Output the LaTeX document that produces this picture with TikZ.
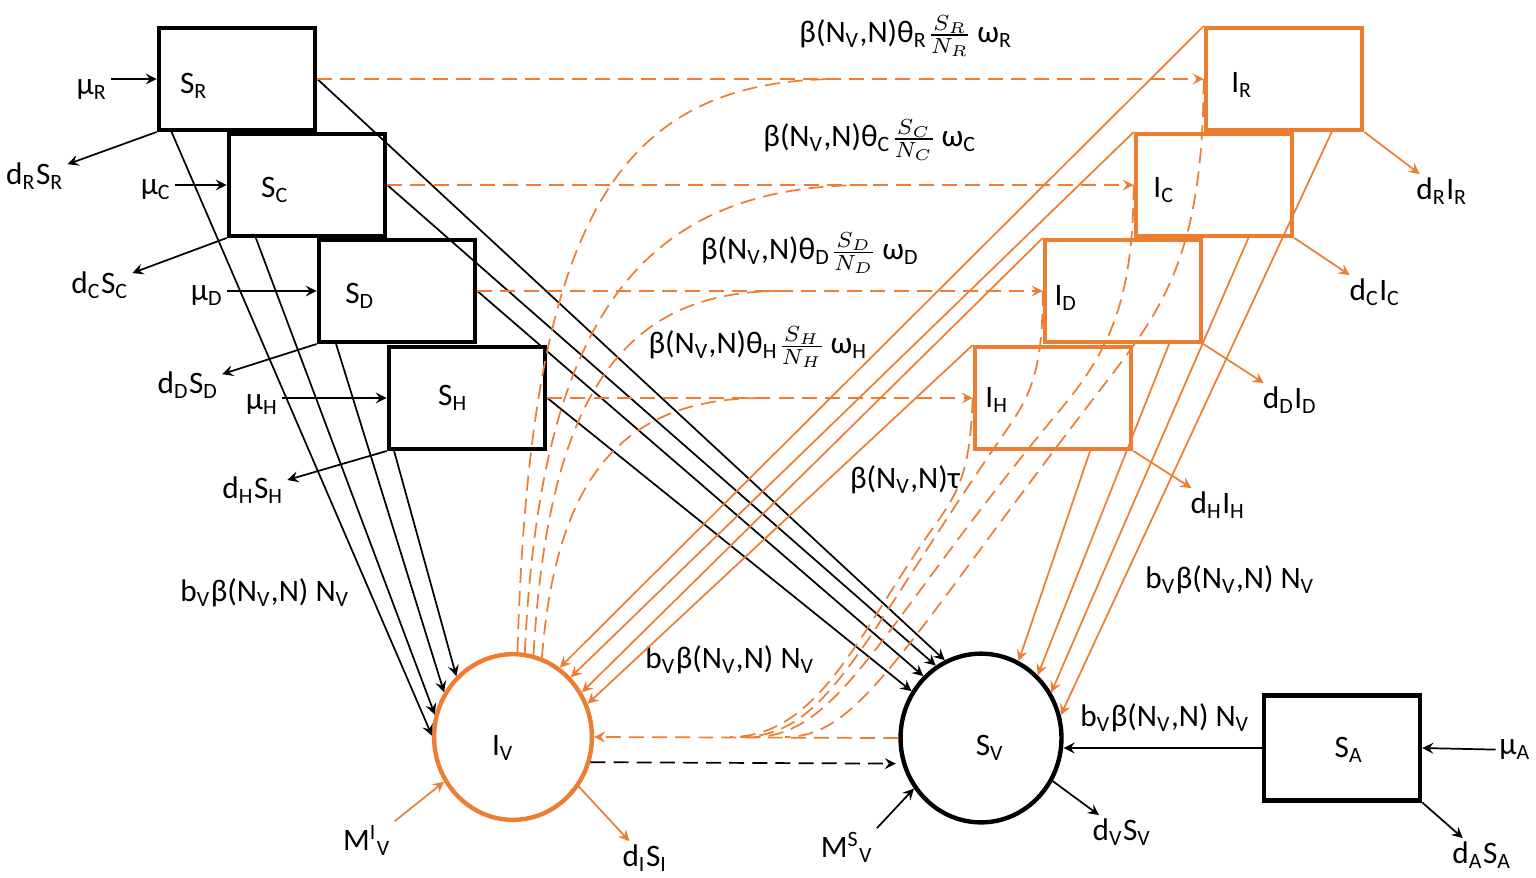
\documentclass[tikz,border=0pt]{standalone}
\usepackage{fontspec}
\setmainfont{Carlito}
\usepackage{amsmath}
\usetikzlibrary{positioning, arrows, shapes}

\definecolor{orng}{RGB}{237,125,49}
\newcommand{\lo}[1]{\textsubscript{#1}}
\newcommand{\bNN}{β(N\lo{V},N)}

\begin{document}
\begin{tikzpicture}[x=0.32pt, y=-0.32pt, font=\fontsize{10}{12}\selectfont,
    sbox/.style={draw, line width=1.4pt, minimum width=50pt, minimum height=32.5pt, inner sep=0pt},
    ibox/.style={sbox, draw=orng},
    pop/.style={ellipse, draw, line width=1.4pt, minimum width=50.5pt, minimum height=53pt, inner sep=0pt},
    txt/.style={inner sep=1pt},
    flow/.style={-stealth, line width=0.55pt},
    oflow/.style={flow, draw=orng},
    dflow/.style={oflow, dash pattern=on 4.8pt off 2.6pt}]
    \useasboundingbox (0,0) rectangle (1536,877);

    % susceptible hosts
    \node[sbox] (SR) at (237,79) {};
    \node[sbox] (SC) at (307,185) {};
    \node[sbox] (SD) at (397,291) {};
    \node[sbox] (SH) at (467,398) {};
    \node[txt] (SRt) at (194,86) {S\lo{R}};
    \node[txt] (SCt) at (275,190) {S\lo{C}};
    \node[txt] (SDt) at (360,296) {S\lo{D}};
    \node[txt] (SHt) at (453,398) {S\lo{H}};

    % infected hosts
    \node[ibox] (IR) at (1284,79) {};
    \node[ibox] (IC) at (1214,185) {};
    \node[ibox] (ID) at (1123,291) {};
    \node[ibox] (IH) at (1053,398) {};
    \node[txt] (IRt) at (1242,85) {I\lo{R}};
    \node[txt] (ICt) at (1164,190) {I\lo{C}};
    \node[txt] (IDt) at (1066,298) {I\lo{D}};
    \node[txt] (IHt) at (997,400) {I\lo{H}};

    % vectors and animals
    \node[pop, draw=orng] (IV) at (513,737) {};
    \node[pop, minimum width=51.5pt, minimum height=54pt] (SV) at (981,738) {};
    \node[sbox, minimum height=33.5pt] (SA) at (1342,748) {};
    \node[txt] (IVt) at (503,748) {I\lo{V}};
    \node[txt] (SVt) at (990,748) {S\lo{V}};
    \node[txt] (SAt) at (1349,750) {S\lo{A}};

    % recruitment and death
    \node[txt] (muR) at (92,90) {μ\lo{R}};
    \node[txt] (muC) at (156,190) {μ\lo{C}};
    \node[txt] (muD) at (207,296) {μ\lo{D}};
    \node[txt] (muH) at (262,405) {μ\lo{H}};
    \node[txt] (dSR) at (35,176) {d\lo{R}S\lo{R}};
    \node[txt] (dSC) at (100,285) {d\lo{C}S\lo{C}};
    \node[txt] (dSD) at (188,385) {d\lo{D}S\lo{D}};
    \node[txt] (dSH) at (253,490) {d\lo{H}S\lo{H}};
    \node[txt] (dIR) at (1442,191) {d\lo{R}I\lo{R}};
    \node[txt] (dIC) at (1375,292) {d\lo{C}I\lo{C}};
    \node[txt] (dID) at (1290,400) {d\lo{D}I\lo{D}};
    \node[txt] (dIH) at (1218,505) {d\lo{H}I\lo{H}};
    \node[txt] (muA) at (1515,750) {μ\lo{A}};
    \node[txt] (dSA) at (1482,855) {d\lo{A}S\lo{A}};
    \node[txt] (MIV) at (367,840) {M\textsuperscript{I}\textsubscript{V}};
    \node[txt] (dIV) at (645,858) {d\lo{I}S\lo{I}};
    \node[txt] (MSV) at (847,847) {M\textsuperscript{S}\textsubscript{V}};
    \node[txt] (dSV) at (1122,832) {d\lo{V}S\lo{V}};

    \foreach \m/\b in {muR/SR, muC/SC, muD/SD, muH/SH}
        \draw[flow] (\m.east |- \b.west) -- (\b.west);
    \foreach \b/\d in {SR/dSR, SC/dSC, SD/dSD, SH/dSH}
        \draw[flow] (\b.south west) -- (\d);
    \foreach \b/\d in {IR/dIR, IC/dIC, ID/dID, IH/dIH}
        \draw[oflow] (\b.south east) -- (\d);
    \draw[flow] (muA) -- (SA.east);
    \draw[flow] (SA.south east) -- (dSA);
    \draw[oflow] (MIV.north east) -- (IV.213);
    \draw[oflow] (IV.-37) -- (dIV);
    \draw[flow] (MSV.north east) -- (SV.217);
    \draw[flow] (SV.-31) -- (dSV);

    % rates
    \node[txt] (lR) at (906,36) {\bNN θ\lo{R}$\frac{S_R}{N_R}$\,ω\lo{R}};
    \node[txt] (lC) at (870,140) {\bNN θ\lo{C}$\frac{S_C}{N_C}$\,ω\lo{C}};
    \node[txt] (lD) at (810,253) {\bNN θ\lo{D}$\frac{S_D}{N_D}$\,ω\lo{D}};
    \node[txt] (lH) at (758,347) {\bNN θ\lo{H}$\frac{S_H}{N_H}$\,ω\lo{H}};
    \node[txt] (ltau) at (905,480) {\bNN τ};
    \node[txt] (bS) at (265,593) {b\lo{V}\bNN\ N\lo{V}};
    \node[txt] (bM) at (730,660) {b\lo{V}\bNN\ N\lo{V}};
    \node[txt] (bI) at (1230,580) {b\lo{V}\bNN\ N\lo{V}};
    \node[txt] (bA) at (1165,718) {b\lo{V}\bNN\ N\lo{V}};

    % births into vector classes
    \foreach \b/\a/\e in {SR/-141/179, SC/-134/164, SD/-139/147, SH/-144/133}
        \draw[flow] (\b.\a) -- (IV.\e);
    \foreach \b/\e in {SR/115, SC/122, SD/133, SH/146}
        \draw[flow] (\b.east) -- (SV.\e);
    \foreach \b/\e in {IR/56, IC/46, ID/33, IH/24}
        \draw[oflow] (\b.north west) -- (IV.\e);
    \foreach \b/\a/\e in {IR/-48/16, IC/-57/33, ID/-49/48, IH/-55/64}
        \draw[oflow] (\b.\a) -- (SV.\e);
    \draw[flow] (SA.west) -- (SA.west -| SV.east);

    % infection of hosts
    \foreach \s/\i in {SR/IR, SC/IC, SD/ID, SH/IH}
        \draw[dflow] (\s.east) -- (\i.west);
    \coordinate (jR) at (840,79);
    \coordinate (jC) at (867,185);
    \coordinate (jD) at (780,291);
    \coordinate (jH) at (763,398);
    \draw[dflow, -] (IV.87) .. controls (530,230) and (610,79) .. (jR);
    \draw[dflow, -] (IV.82) .. controls (540,320) and (640,185) .. (jC);
    \draw[dflow, -] (IV.76) .. controls (548,400) and (620,291) .. (jD);
    \draw[dflow, -] (IV.70) .. controls (556,480) and (620,398) .. (jH);

    % infection of vectors
    \draw[dflow] (SV.west) -- (IV.east);
    \coordinate (kR) at (785,737);
    \coordinate (kC) at (753,737);
    \coordinate (kD) at (740,737);
    \coordinate (kH) at (730,737);
    \draw[dflow, -] (IR.west) .. controls (1203,260) and (1160,312) .. (1100,390)
        .. controls (900,650) and (860,737) .. (kR);
    \draw[dflow, -] (IC.west) .. controls (1133,300) and (1110,350) .. (1060,410)
        .. controls (880,626) and (840,737) .. (kC);
    \draw[dflow, -] (ID.west) .. controls (1043,370) and (1030,395) .. (1010,425)
        .. controls (860,640) and (830,737) .. (kD);
    \draw[dflow, -] (IH.west) .. controls (970,470) and (960,490) .. (935,525)
        .. controls (860,630) and (820,737) .. (kH);

    \draw[flow, dash pattern=on 4.8pt off 2.6pt, shorten >=2pt] (IV.-18) -- (SV.-162);
\end{tikzpicture}
\end{document}
